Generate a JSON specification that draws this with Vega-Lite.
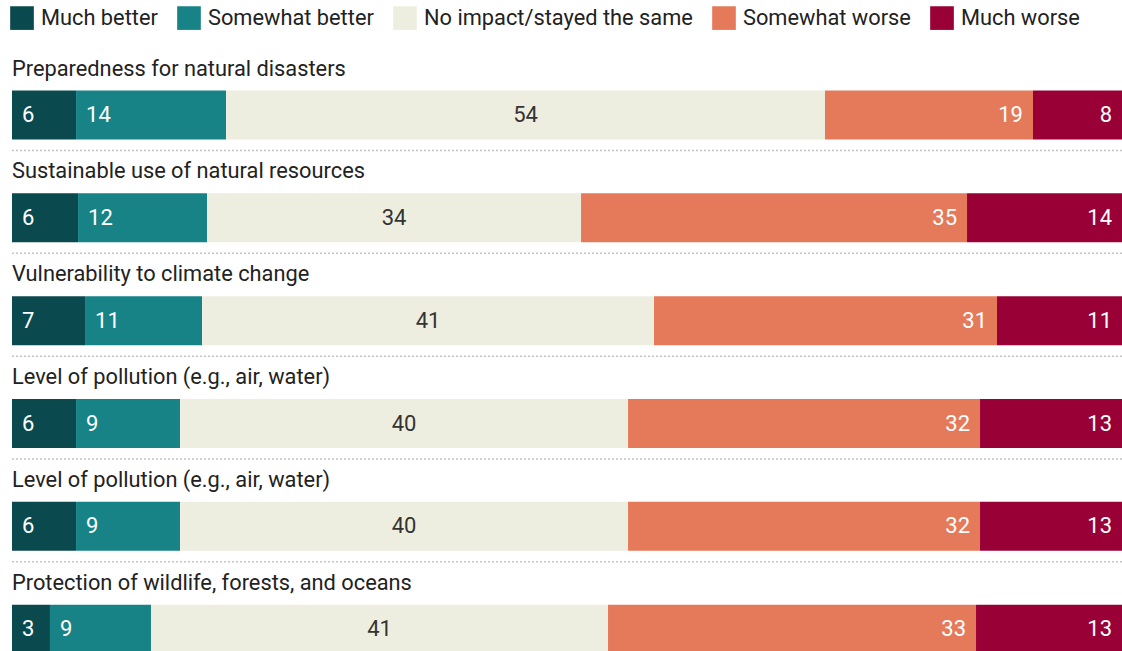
{
  "$schema": "https://vega.github.io/schema/vega-lite/v6.json",
  "width": 1110,
  "height": 617,
  "autosize": {"type": "none"},
  "padding": {"left": 12, "top": 51, "right": 0, "bottom": 0},
  "background": "white",
  "config": {"view": {"stroke": null}, "font": "Roboto"},
  "data": {
    "values": [
      {"row": 1, "title": "Preparedness for natural disasters", "cat": "Much better", "order": 1, "value": 5.77, "label": 6},
      {"row": 1, "title": "Preparedness for natural disasters", "cat": "Somewhat better", "order": 2, "value": 13.51, "label": 14},
      {"row": 1, "title": "Preparedness for natural disasters", "cat": "No impact/stayed the same", "order": 3, "value": 53.96, "label": 54},
      {"row": 1, "title": "Preparedness for natural disasters", "cat": "Somewhat worse", "order": 4, "value": 18.74, "label": 19},
      {"row": 1, "title": "Preparedness for natural disasters", "cat": "Much worse", "order": 5, "value": 8.02, "label": 8},
      {"row": 2, "title": "Sustainable use of natural resources", "cat": "Much better", "order": 1, "value": 5.95, "label": 6},
      {"row": 2, "title": "Sustainable use of natural resources", "cat": "Somewhat better", "order": 2, "value": 11.62, "label": 12},
      {"row": 2, "title": "Sustainable use of natural resources", "cat": "No impact/stayed the same", "order": 3, "value": 33.69, "label": 34},
      {"row": 2, "title": "Sustainable use of natural resources", "cat": "Somewhat worse", "order": 4, "value": 34.77, "label": 35},
      {"row": 2, "title": "Sustainable use of natural resources", "cat": "Much worse", "order": 5, "value": 13.96, "label": 14},
      {"row": 3, "title": "Vulnerability to climate change", "cat": "Much better", "order": 1, "value": 6.58, "label": 7},
      {"row": 3, "title": "Vulnerability to climate change", "cat": "Somewhat better", "order": 2, "value": 10.54, "label": 11},
      {"row": 3, "title": "Vulnerability to climate change", "cat": "No impact/stayed the same", "order": 3, "value": 40.72, "label": 41},
      {"row": 3, "title": "Vulnerability to climate change", "cat": "Somewhat worse", "order": 4, "value": 30.9, "label": 31},
      {"row": 3, "title": "Vulnerability to climate change", "cat": "Much worse", "order": 5, "value": 11.26, "label": 11},
      {"row": 4, "title": "Level of pollution (e.g., air, water)", "cat": "Much better", "order": 1, "value": 5.77, "label": 6},
      {"row": 4, "title": "Level of pollution (e.g., air, water)", "cat": "Somewhat better", "order": 2, "value": 9.37, "label": 9},
      {"row": 4, "title": "Level of pollution (e.g., air, water)", "cat": "No impact/stayed the same", "order": 3, "value": 40.36, "label": 40},
      {"row": 4, "title": "Level of pollution (e.g., air, water)", "cat": "Somewhat worse", "order": 4, "value": 31.71, "label": 32},
      {"row": 4, "title": "Level of pollution (e.g., air, water)", "cat": "Much worse", "order": 5, "value": 12.79, "label": 13},
      {"row": 5, "title": "Level of pollution (e.g., air, water)", "cat": "Much better", "order": 1, "value": 5.77, "label": 6},
      {"row": 5, "title": "Level of pollution (e.g., air, water)", "cat": "Somewhat better", "order": 2, "value": 9.37, "label": 9},
      {"row": 5, "title": "Level of pollution (e.g., air, water)", "cat": "No impact/stayed the same", "order": 3, "value": 40.36, "label": 40},
      {"row": 5, "title": "Level of pollution (e.g., air, water)", "cat": "Somewhat worse", "order": 4, "value": 31.71, "label": 32},
      {"row": 5, "title": "Level of pollution (e.g., air, water)", "cat": "Much worse", "order": 5, "value": 12.79, "label": 13},
      {"row": 6, "title": "Protection of wildlife, forests, and oceans", "cat": "Much better", "order": 1, "value": 3.42, "label": 3},
      {"row": 6, "title": "Protection of wildlife, forests, and oceans", "cat": "Somewhat better", "order": 2, "value": 9.1, "label": 9},
      {"row": 6, "title": "Protection of wildlife, forests, and oceans", "cat": "No impact/stayed the same", "order": 3, "value": 41.17, "label": 41},
      {"row": 6, "title": "Protection of wildlife, forests, and oceans", "cat": "Somewhat worse", "order": 4, "value": 33.15, "label": 33},
      {"row": 6, "title": "Protection of wildlife, forests, and oceans", "cat": "Much worse", "order": 5, "value": 13.15, "label": 13}
    ]
  },
  "transform": [
    {"stack": "value", "groupby": ["row"], "sort": [{"field": "order", "order": "ascending"}], "as": ["v0", "v1"], "offset": "normalize"}
  ],
  "encoding": {
    "y": {"field": "row", "type": "ordinal", "axis": null, "scale": {"paddingInner": 0, "paddingOuter": 0}}
  },
  "layer": [
    {
      "transform": [{"filter": "datum.order == 1"}],
      "mark": {"type": "rule", "strokeDash": [2, 2], "color": "#c4c4c4", "strokeWidth": 1.5, "yOffset": 48.1},
      "encoding": {}
    },
    {
      "mark": {"type": "bar", "height": 49, "yOffset": 12.6},
      "encoding": {
        "x": {"field": "v0", "type": "quantitative", "axis": null, "scale": {"domain": [0, 1], "nice": false, "zero": false}},
        "x2": {"field": "v1"},
        "color": {
          "field": "cat",
          "type": "nominal",
          "scale": {
            "domain": ["Much better", "Somewhat better", "No impact/stayed the same", "Somewhat worse", "Much worse"],
            "range": ["#0a4a4e", "#178386", "#eeeee0", "#e57a5a", "#990035"]
          },
          "legend": {
            "orient": "none",
            "legendX": -2,
            "legendY": -45,
            "direction": "horizontal",
            "title": null,
            "symbolType": "square",
            "symbolSize": 560,
            "symbolStrokeWidth": 0,
            "symbolOpacity": 1,
            "labelFontSize": 21.8,
            "labelFont": "Roboto",
            "labelColor": "#222222",
            "labelOffset": 7,
            "labelLimit": 400,
            "columnPadding": 19
          }
        }
      }
    },
    {
      "transform": [{"filter": "datum.order == 1"}],
      "mark": {"type": "text", "align": "left", "baseline": "middle", "fontSize": 21.8, "color": "#222222", "yOffset": -33.9},
      "encoding": {
        "x": {"field": "v0", "type": "quantitative"},
        "text": {"field": "title"}
      }
    },
    {
      "transform": [{"filter": "datum.order <= 2"}],
      "mark": {"type": "text", "align": "left", "baseline": "middle", "fontSize": 22, "color": "white", "dx": 10, "yOffset": 12.6},
      "encoding": {
        "x": {"field": "v0", "type": "quantitative"},
        "text": {"field": "label"}
      }
    },
    {
      "transform": [{"filter": "datum.order == 3"}, {"calculate": "(datum.v0 + datum.v1) / 2", "as": "mid"}],
      "mark": {"type": "text", "align": "center", "baseline": "middle", "fontSize": 22, "color": "#333333", "yOffset": 12.6},
      "encoding": {
        "x": {"field": "mid", "type": "quantitative"},
        "text": {"field": "label"}
      }
    },
    {
      "transform": [{"filter": "datum.order >= 4"}],
      "mark": {"type": "text", "align": "right", "baseline": "middle", "fontSize": 22, "color": "white", "dx": -10, "yOffset": 12.6},
      "encoding": {
        "x": {"field": "v1", "type": "quantitative"},
        "text": {"field": "label"}
      }
    }
  ]
}
